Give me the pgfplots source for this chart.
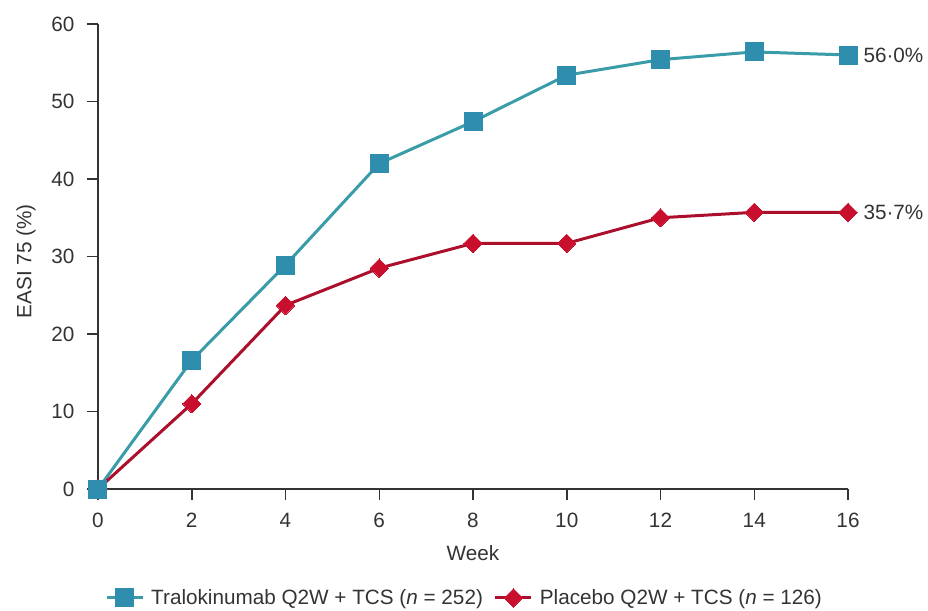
\documentclass[border=0pt]{standalone}
\usepackage{fontspec}
\setmainfont{Liberation Sans}
\usepackage{pgfplots}
\pgfplotsset{compat=1.18}
\definecolor{tealline}{HTML}{3A9CA8}
\definecolor{tealmark}{HTML}{2F8EAE}
\definecolor{redline}{HTML}{AC0F2C}
\definecolor{redmark}{HTML}{C8102E}
\definecolor{axgray}{HTML}{333333}
\begin{document}
\begin{tikzpicture}[font=\fontsize{20.7}{24}\selectfont]
\begin{axis}[
  scale only axis, width=750pt, height=465pt,
  xmin=0, xmax=16, ymin=0, ymax=60,
  axis x line*=bottom, axis y line*=left,
  xtick={0,2,...,16}, ytick={0,10,...,60},
  tick align=outside, major tick length=11pt,
  tick style={axgray, line width=1.5pt},
  axis line style={axgray, line width=1.8pt},
  /pgf/number format/assume math mode=true,
  ticklabel style={text=axgray, font=\fontsize{20.7}{24}\selectfont},
  xticklabel style={yshift=-10pt},
  yticklabel style={xshift=-9pt},
  xlabel={Week}, ylabel={EASI 75 (\%)},
  label style={text=axgray, font=\fontsize{20.7}{24}\selectfont},
  xlabel style={at={(axis description cs:0.5,-0.1376)}, anchor=center},
  ylabel style={at={(axis description cs:-0.096,0.49)}, anchor=center},
  clip=false,
  legend style={at={(0.4887,-0.234)}, anchor=center, draw=none, fill=none,
    legend columns=2, text=axgray, font=\fontsize{20.7}{24}\selectfont,
    /tikz/every odd column/.append style={column sep=5pt},
    /tikz/every even column/.append style={column sep=9pt}},
  legend image code/.code={\draw[mark repeat=2,mark phase=2] plot coordinates {(0pt,0pt)(18pt,0pt)(36pt,0pt)};},
]
\addplot[tealline, line width=3pt, mark=square*, mark size=9pt, mark options={fill=tealmark, draw=tealmark, line width=0pt}]
  coordinates {(0,0)(2,16.6)(4,28.9)(6,42.0)(8,47.4)(10,53.4)(12,55.4)(14,56.4)(16,56.0)};
\addlegendentry{Tralokinumab Q2W + TCS (\textit{n} = 252)}
\addplot[redline, line width=3pt, mark=square*, mark size=6.5pt, mark options={rotate=45, fill=redmark, draw=redmark, line width=0pt}]
  coordinates {(0,0)(2,11.0)(4,23.7)(6,28.5)(8,31.7)(10,31.7)(12,35.0)(14,35.7)(16,35.7)};
\addlegendentry{Placebo Q2W + TCS (\textit{n} = 126)}
\addplot[forget plot, only marks, mark=square*, mark size=9pt, mark options={fill=tealmark, draw=tealmark, line width=0pt}]
  coordinates {(0,0)};
\node[anchor=west, text=axgray, xshift=12pt] at (axis cs:16,56.0) {56·0\%};
\node[anchor=west, text=axgray, xshift=12pt] at (axis cs:16,35.7) {35·7\%};
\end{axis}
\path[use as bounding box] (-98pt,-121pt) rectangle (830pt,489pt);
\end{tikzpicture}
\end{document}
